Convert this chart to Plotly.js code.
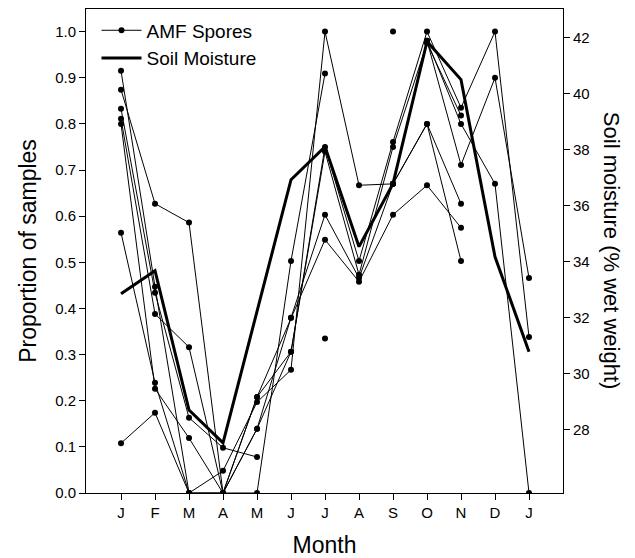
<!DOCTYPE html>
<html>
<head>
<meta charset="utf-8">
<script src="https://cdn.plot.ly/plotly-3.0.1.min.js"></script>
<style>html,body{margin:0;padding:0;background:#fff;}#chart{width:635px;height:558px;}</style>
</head>
<body>
<div id="chart"></div>
<script>
// Month categories (Jan of year 1 through Jan of year 2)
const months = ['J','F','M','A','M','J','J','A','S','O','N','D','J'];

// Soil moisture (% wet weight), right axis
const soilMoisture = [32.86, 33.68, 28.71, 27.54, 32.23, 36.93, 38.11, 34.54, 36.79, 41.86, 40.5, 34.18, 30.79];
const moistureTicks = [28, 30, 32, 34, 36, 38, 40, 42];

// AMF spores: proportion of samples, one array per site (null = not sampled)
const site1  = [0.874, 0.627, 0.586, 0.0,   0.0,   0.503, 0.909, null,  null,  null,  null,  null,  null];
const site2  = [0.108, 0.174, 0.0,   0.048, 0.197, 0.267, 1.0,   0.667, 0.67,  0.80,  0.627, null,  null];
const site3  = [0.915, 0.447, 0.0,   0.0,   0.208, 0.306, 0.75,  0.503, 0.761, 1.0,   0.835, 1.0,   0.338];
const site4  = [0.833, 0.434, 0.163, 0.098, 0.078, null,  0.335, null,  null,  null,  null,  null,  null];
const site5  = [0.811, 0.388, 0.316, 0.0,   0.139, 0.38,  0.603, 0.466, 0.67,  0.98,  0.711, 0.90,  0.466];
const site6  = [0.80,  0.226, 0.119, 0.0,   0.139, 0.306, 0.74,  0.473, 0.75,  0.975, 0.818, null,  null];
const site7  = [0.564, 0.239, 0.0,   0.0,   0.208, 0.38,  0.549, 0.458, 0.603, 0.667, 0.575, null,  null];
const site8  = [null,  null,  null,  null,  null,  null,  null,  null,  1.0,   null,  null,  null,  null];
const site9  = [null,  null,  null,  null,  null,  null,  null,  null,  0.67,  0.98,  0.80,  0.67,  0.0];
const site10 = [null,  null,  null,  null,  null,  null,  null,  null,  0.67,  0.80,  0.503, null,  null];
const sites = [site1, site2, site3, site4, site5, site6, site7, site8, site9, site10];

const xIdx = months.map((_, i) => i);
const FONT = 'Liberation Sans, Arial, Helvetica, sans-serif';

const traces = sites.map((s, k) => ({
  x: xIdx, y: s, type: 'scatter', mode: 'lines+markers',
  name: 'AMF Spores', legendgroup: 'amf', showlegend: k === 0,
  connectgaps: false,
  line: {color: '#000', width: 1},
  marker: {color: '#000', size: 6}
}));
traces.push({
  x: xIdx, y: soilMoisture, type: 'scatter', mode: 'lines', yaxis: 'y2',
  name: 'Soil Moisture', line: {color: '#000', width: 3}
});

const layout = {
  width: 635, height: 558,
  margin: {l: 86, r: 72, t: 9, b: 65},
  paper_bgcolor: '#fff', plot_bgcolor: '#fff',
  font: {family: FONT, color: '#000', size: 14},
  showlegend: true,
  legend: {x: 0.022, y: 0.995, xanchor: 'left', yanchor: 'top', bgcolor: 'rgba(0,0,0,0)',
           font: {family: FONT, size: 19, color: '#000'}, tracegroupgap: 0, itemwidth: 40},
  xaxis: {
    range: [-1.03, 13.0], tickmode: 'array', tickvals: xIdx, ticktext: months,
    showline: true, linecolor: '#000', linewidth: 1, mirror: true,
    ticks: 'outside', ticklen: 6, tickcolor: '#000', showgrid: false, zeroline: false,
    tickfont: {family: FONT, size: 15},
    title: {text: 'Month', font: {family: FONT, size: 23}, standoff: 16}
  },
  yaxis: {
    range: [0, 1.049], tickmode: 'linear', tick0: 0, dtick: 0.1, tickformat: '.1f',
    showline: true, linecolor: '#000', linewidth: 1,
    ticks: 'outside', ticklen: 6, tickcolor: '#000', showgrid: false, zeroline: false,
    tickfont: {family: FONT, size: 15},
    title: {text: 'Proportion of samples', font: {family: FONT, size: 23}, standoff: 12}
  },
  yaxis2: {
    overlaying: 'y', side: 'right', range: [25.75, 43.02], tickmode: 'array', tickvals: moistureTicks,
    showline: true, linecolor: '#000', linewidth: 1,
    ticks: 'outside', ticklen: 6, tickcolor: '#000', showgrid: false, zeroline: false,
    tickfont: {family: FONT, size: 15}
  },
  annotations: [{
    text: 'Soil moisture (% wet weight)', xref: 'paper', yref: 'paper',
    x: 1.103, y: 0.5, xanchor: 'center', yanchor: 'middle', textangle: 90, showarrow: false,
    font: {family: FONT, size: 22, color: '#000'}
  }]
};

Plotly.newPlot('chart', traces, layout, {displayModeBar: false, staticPlot: true});
</script>
</body>
</html>
